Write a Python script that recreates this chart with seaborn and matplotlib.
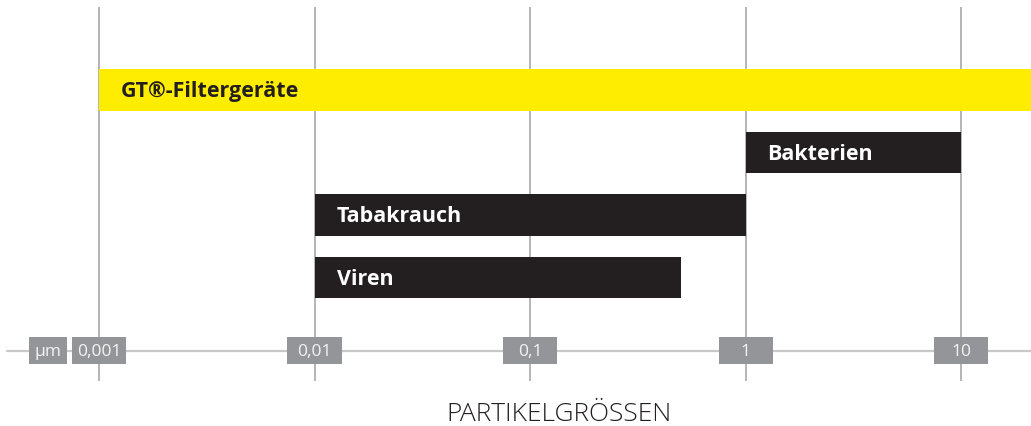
import numpy as np
import matplotlib
matplotlib.use("Agg")
import matplotlib.pyplot as plt
import seaborn as sns

# particle size ranges in µm (start, end)
categories = ["GT®-Filtergeräte", "Bakterien", "Tabakrauch", "Viren"]
range_start = [0.001, 1, 0.01, 0.01]
range_end = [30, 10, 1, 0.5]
bar_colors = ["#FFED00", "#231F20", "#231F20", "#231F20"]
text_colors = ["#231F20", "#FFFFFF", "#FFFFFF", "#FFFFFF"]

tick_values = [0.001, 0.01, 0.1, 1, 10]
tick_labels = ["0,001", "0,01", "0,1", "1", "10"]
unit_label = "µm"
axis_title = "PARTIKELGRÖSSEN"

sns.set_theme(style="white")
plt.rcParams["font.family"] = ["Open Sans", "DejaVu Sans"]

fig = plt.figure(figsize=(10.31, 4.26), dpi=100)
ax = fig.add_axes([0, 0, 1, 1])
ax.set_xscale("log")
ax.set_xlim(10 ** -3.4594, 10 ** 1.3248)
ax.set_ylim(5.376, -1.44)
ax.axis("off")

grid_col = "#A8A8A8"
box_col = "#939598"

# vertical gridlines
ax.vlines(tick_values, -1.328, 4.656, color=grid_col, lw=1.2, zorder=1)

# horizontal axis line
ax.axhline(4.168, xmin=7 / 1031, xmax=1, color="#C8C8C8", lw=1.6, zorder=1)

# range bars
y_pos = np.arange(len(categories))
ax.barh(y_pos, np.array(range_end) - np.array(range_start), left=range_start,
        height=0.66, color=bar_colors, linewidth=0, zorder=2)
for y, s, lab, tc in zip(y_pos, range_start, categories, text_colors):
    ax.annotate(lab, xy=(s, y + 0.03), xytext=(22, 0), textcoords="offset pixels",
                va="center", ha="left", fontsize=15.5, fontweight="bold",
                color=tc, zorder=3)

# tick label boxes (54 px wide -> 0.1253 decades each side)
half = 10 ** 0.1253
tv = np.array(tick_values)
ax.barh(np.full(len(tv), 4.168), tv * half - tv / half, left=tv / half,
        height=0.432, color=box_col, linewidth=0, zorder=3)
for t, lab in zip(tick_values, tick_labels):
    ax.text(t, 4.19, lab, ha="center", va="center", fontsize=12.5,
            color="#F4F4F4", zorder=4)

# unit box
u = 10 ** -3.2367
uh = 10 ** 0.0882
ax.barh([4.168], [u * uh - u / uh], left=[u / uh], height=0.432,
        color=box_col, linewidth=0, zorder=3)
ax.text(u, 4.19, unit_label, ha="center", va="center", fontsize=12.5,
        color="#F4F4F4", zorder=4)

ax.text(10 ** -0.8654, 5.19, axis_title, ha="center", va="center",
        fontsize=19, fontweight="light", color="#231F20")

fig.savefig("out.png", dpi=100)
plt.close(fig)
